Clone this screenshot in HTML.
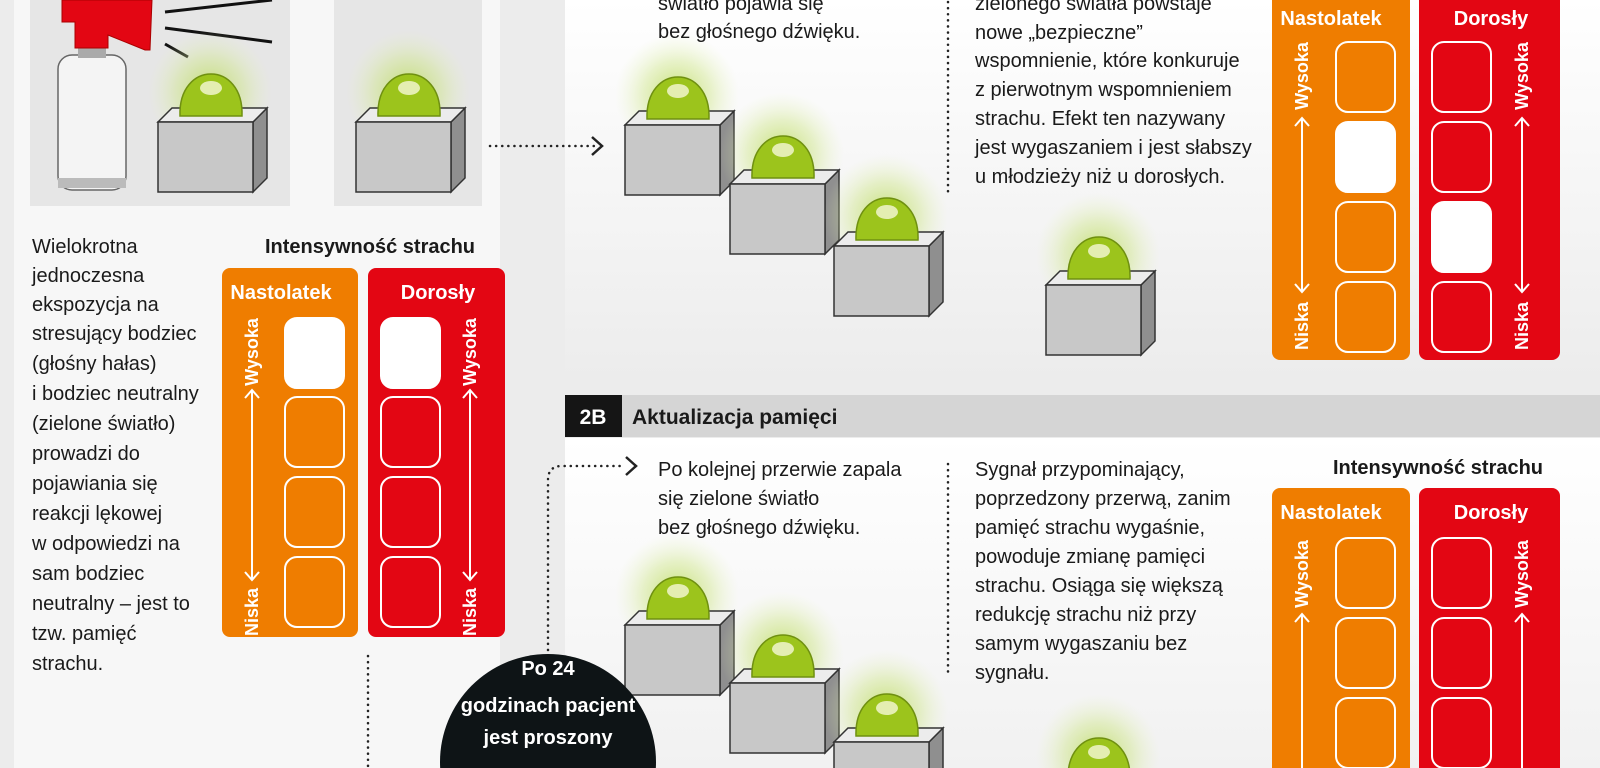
<!DOCTYPE html>
<html><head><meta charset="utf-8"><style>
html,body{margin:0;padding:0;width:1600px;height:768px;overflow:hidden;background:#ececec}
svg{display:block;overflow:hidden}
text{font-family:"Liberation Sans Narrow","Liberation Sans",sans-serif;fill:#1a1a1a}
.t{font-size:20px}
.b{font-weight:bold}
.w{fill:#fff}
.r{font-size:18px;font-weight:bold}
</style></head><body>
<svg width="1600" height="768" viewBox="0 0 1600 768" xmlns="http://www.w3.org/2000/svg">
<defs>
<radialGradient id="glow"><stop offset="0" stop-color="#b5d84a" stop-opacity="0.8"/><stop offset="0.55" stop-color="#cfe68a" stop-opacity="0.45"/><stop offset="1" stop-color="#e6f2c0" stop-opacity="0"/></radialGradient>
<linearGradient id="pg" x1="0" y1="0" x2="0" y2="1"><stop offset="0" stop-color="#ffffff"/><stop offset="1" stop-color="#ececec"/></linearGradient>
<linearGradient id="pg2" x1="0" y1="0" x2="0" y2="1"><stop offset="0" stop-color="#ffffff"/><stop offset="1" stop-color="#f1f1f1"/></linearGradient>
<g id="box">
<circle cx="52" cy="-30" r="62" fill="url(#glow)"/>
<polygon points="95,0 109,-14 109,56 95,70" fill="#8f8f8f" stroke="#333" stroke-width="1.5"/>
<polygon points="0,0 14,-14 109,-14 95,0" fill="#ececec" stroke="#333" stroke-width="1.5"/>
<rect x="0" y="0" width="95" height="70" fill="#c8c8c8" stroke="#333" stroke-width="1.5"/>
<path d="M22,-6 C20,-62 86,-62 84,-6 Z" fill="#9cc41c" stroke="#6f9010" stroke-width="1.5"/>
<ellipse cx="53" cy="-34" rx="11" ry="7" fill="#e4eeb2"/>
</g>
</defs>

<rect x="14" y="0" width="486" height="768" fill="#f7f7f7"/>
<rect x="30" y="0" width="260" height="206" fill="#e6e6e6"/>
<rect x="334" y="0" width="148" height="206" fill="#e6e6e6"/>
<rect x="565" y="0" width="1035" height="382" fill="url(#pg)"/>
<rect x="565" y="438" width="1035" height="330" fill="url(#pg2)"/>

<line x1="165" y1="12" x2="272" y2="0" stroke="#111" stroke-width="3"/>
<line x1="165" y1="28" x2="272" y2="42" stroke="#111" stroke-width="3"/>
<line x1="165" y1="44" x2="188" y2="57" stroke="#111" stroke-width="3"/>
<rect x="58" y="55" width="68" height="135" rx="14" fill="#f4f4f4" stroke="#666" stroke-width="1.5"/>
<rect x="58" y="178" width="68" height="10" fill="#bbb"/>
<rect x="78" y="48" width="28" height="10" fill="#aaa"/>
<path d="M62,0 L62,22 L75,22 L75,48 L108,48 L108,35 L145,50 L150,50 L152,0 Z" fill="#e30613" stroke="#a00" stroke-width="1"/>

<use href="#box" transform="translate(158,122)"/>
<use href="#box" transform="translate(356,122)"/>
<use href="#box" transform="translate(625,125)"/>
<use href="#box" transform="translate(730,184)"/>
<use href="#box" transform="translate(834,246)"/>
<use href="#box" transform="translate(1046,285)"/>
<use href="#box" transform="translate(625,625)"/>
<use href="#box" transform="translate(730,683)"/>
<use href="#box" transform="translate(834,742)"/>
<use href="#box" transform="translate(1046,786)"/>

<g stroke="#222" stroke-width="2.5" stroke-dasharray="0.1 6" stroke-linecap="round" fill="none">
<line x1="490" y1="146" x2="595" y2="146"/>
<line x1="948" y1="2" x2="948" y2="192"/>
<line x1="948" y1="464" x2="948" y2="672"/>
<line x1="368" y1="656" x2="368" y2="768"/>
<path d="M548,650 L548,480 Q548,466 562,466 L620,466"/>
</g>
<polyline points="592,137 602,146 592,155" fill="none" stroke="#222" stroke-width="2.5"/>
<polyline points="626,457 636,466 626,475" fill="none" stroke="#222" stroke-width="2.5"/>

<circle cx="548" cy="762" r="108" fill="#0e1416"/>
<text class="t b w" x="548" y="675" text-anchor="middle">Po 24</text>
<text class="t b w" x="548" y="712" text-anchor="middle">godzinach pacjent</text>
<text class="t b w" x="548" y="744" text-anchor="middle">jest proszony</text>

<rect x="565" y="395" width="1035" height="42" fill="#d5d5d5"/>
<rect x="565" y="395" width="57" height="42" fill="#151515"/>
<text class="b w" x="593" y="424" text-anchor="middle" style="font-size:21px">2B</text>
<text class="b" x="632" y="424" style="font-size:21px">Aktualizacja pamięci</text>

<g class="t">
<text x="658" y="10">światło pojawia się</text>
<text x="658" y="38">bez głośnego dźwięku.</text>
<text x="975" y="10">zielonego światła powstaje</text>
<text x="975" y="39">nowe „bezpieczne”</text>
<text x="975" y="67">wspomnienie, które konkuruje</text>
<text x="975" y="96">z pierwotnym wspomnieniem</text>
<text x="975" y="125">strachu. Efekt ten nazywany</text>
<text x="975" y="154">jest wygaszaniem i jest słabszy</text>
<text x="975" y="183">u młodzieży niż u dorosłych.</text>
<text x="658" y="476">Po kolejnej przerwie zapala</text>
<text x="658" y="505">się zielone światło</text>
<text x="658" y="534">bez głośnego dźwięku.</text>
<text x="975" y="476">Sygnał przypominający,</text>
<text x="975" y="505">poprzedzony przerwą, zanim</text>
<text x="975" y="534">pamięć strachu wygaśnie,</text>
<text x="975" y="563">powoduje zmianę pamięci</text>
<text x="975" y="592">strachu. Osiąga się większą</text>
<text x="975" y="621">redukcję strachu niż przy</text>
<text x="975" y="650">samym wygaszaniu bez</text>
<text x="975" y="679">sygnału.</text>
<text x="32" y="253">Wielokrotna</text>
<text x="32" y="282">jednoczesna</text>
<text x="32" y="311">ekspozycja na</text>
<text x="32" y="340">stresujący bodziec</text>
<text x="32" y="370">(głośny hałas)</text>
<text x="32" y="400">i bodziec neutralny</text>
<text x="32" y="430">(zielone światło)</text>
<text x="32" y="460">prowadzi do</text>
<text x="32" y="490">pojawiania się</text>
<text x="32" y="520">reakcji lękowej</text>
<text x="32" y="550">w odpowiedzi na</text>
<text x="32" y="580">sam bodziec</text>
<text x="32" y="610">neutralny – jest to</text>
<text x="32" y="640">tzw. pamięć</text>
<text x="32" y="670">strachu.</text>
</g>
<text class="t b" x="370" y="253" text-anchor="middle">Intensywność strachu</text>
<text class="t b" x="1438" y="474" text-anchor="middle">Intensywność strachu</text>

<rect x="222" y="268" width="136" height="369" rx="8" fill="#ef7d00"/>
<rect x="368" y="268" width="137" height="369" rx="8" fill="#e30613"/>
<text class="t b w" x="281" y="299" text-anchor="middle">Nastolatek</text>
<text class="t b w" x="438" y="299" text-anchor="middle">Dorosły</text>
<g fill="none" stroke="#fff" stroke-width="2">
<rect x="285" y="318" width="59" height="70" rx="12" fill="#fff"/>
<rect x="285" y="397" width="59" height="70" rx="12"/>
<rect x="285" y="477" width="59" height="70" rx="12"/>
<rect x="285" y="557" width="59" height="70" rx="12"/>
<rect x="381" y="318" width="59" height="70" rx="12" fill="#fff"/>
<rect x="381" y="397" width="59" height="70" rx="12"/>
<rect x="381" y="477" width="59" height="70" rx="12"/>
<rect x="381" y="557" width="59" height="70" rx="12"/>
<line x1="252" y1="390" x2="252" y2="580"/><polyline points="245,398 252,390 259,398"/><polyline points="245,572 252,580 259,572"/>
<line x1="470" y1="390" x2="470" y2="580"/><polyline points="463,398 470,390 477,398"/><polyline points="463,572 470,580 477,572"/>
</g>
<text class="w r" transform="translate(258,352) rotate(-90)" text-anchor="middle">Wysoka</text>
<text class="w r" transform="translate(258,612) rotate(-90)" text-anchor="middle">Niska</text>
<text class="w r" transform="translate(476,352) rotate(-90)" text-anchor="middle">Wysoka</text>
<text class="w r" transform="translate(476,612) rotate(-90)" text-anchor="middle">Niska</text>

<rect x="1272" y="-10" width="138" height="370" rx="8" fill="#ef7d00"/>
<rect x="1419" y="-10" width="141" height="370" rx="8" fill="#e30613"/>
<text class="t b w" x="1331" y="25" text-anchor="middle">Nastolatek</text>
<text class="t b w" x="1491" y="25" text-anchor="middle">Dorosły</text>
<g fill="none" stroke="#fff" stroke-width="2">
<rect x="1336" y="42" width="59" height="70" rx="12"/>
<rect x="1336" y="122" width="59" height="70" rx="12" fill="#fff"/>
<rect x="1336" y="202" width="59" height="70" rx="12"/>
<rect x="1336" y="282" width="59" height="70" rx="12"/>
<rect x="1432" y="42" width="59" height="70" rx="12"/>
<rect x="1432" y="122" width="59" height="70" rx="12"/>
<rect x="1432" y="202" width="59" height="70" rx="12" fill="#fff"/>
<rect x="1432" y="282" width="59" height="70" rx="12"/>
<line x1="1302" y1="118" x2="1302" y2="292"/><polyline points="1295,126 1302,118 1309,126"/><polyline points="1295,284 1302,292 1309,284"/>
<line x1="1522" y1="118" x2="1522" y2="292"/><polyline points="1515,126 1522,118 1529,126"/><polyline points="1515,284 1522,292 1529,284"/>
</g>
<text class="w r" transform="translate(1308,76) rotate(-90)" text-anchor="middle">Wysoka</text>
<text class="w r" transform="translate(1308,326) rotate(-90)" text-anchor="middle">Niska</text>
<text class="w r" transform="translate(1528,76) rotate(-90)" text-anchor="middle">Wysoka</text>
<text class="w r" transform="translate(1528,326) rotate(-90)" text-anchor="middle">Niska</text>

<rect x="1272" y="488" width="138" height="290" rx="8" fill="#ef7d00"/>
<rect x="1419" y="488" width="141" height="290" rx="8" fill="#e30613"/>
<text class="t b w" x="1331" y="519" text-anchor="middle">Nastolatek</text>
<text class="t b w" x="1491" y="519" text-anchor="middle">Dorosły</text>
<g fill="none" stroke="#fff" stroke-width="2">
<rect x="1336" y="538" width="59" height="70" rx="12"/>
<rect x="1336" y="618" width="59" height="70" rx="12"/>
<rect x="1336" y="698" width="59" height="70" rx="12"/>
<rect x="1432" y="538" width="59" height="70" rx="12"/>
<rect x="1432" y="618" width="59" height="70" rx="12"/>
<rect x="1432" y="698" width="59" height="70" rx="12"/>
<line x1="1302" y1="614" x2="1302" y2="768"/><polyline points="1295,622 1302,614 1309,622"/>
<line x1="1522" y1="614" x2="1522" y2="768"/><polyline points="1515,622 1522,614 1529,622"/>
</g>
<text class="w r" transform="translate(1308,574) rotate(-90)" text-anchor="middle">Wysoka</text>
<text class="w r" transform="translate(1528,574) rotate(-90)" text-anchor="middle">Wysoka</text>
</svg>
</body></html>
